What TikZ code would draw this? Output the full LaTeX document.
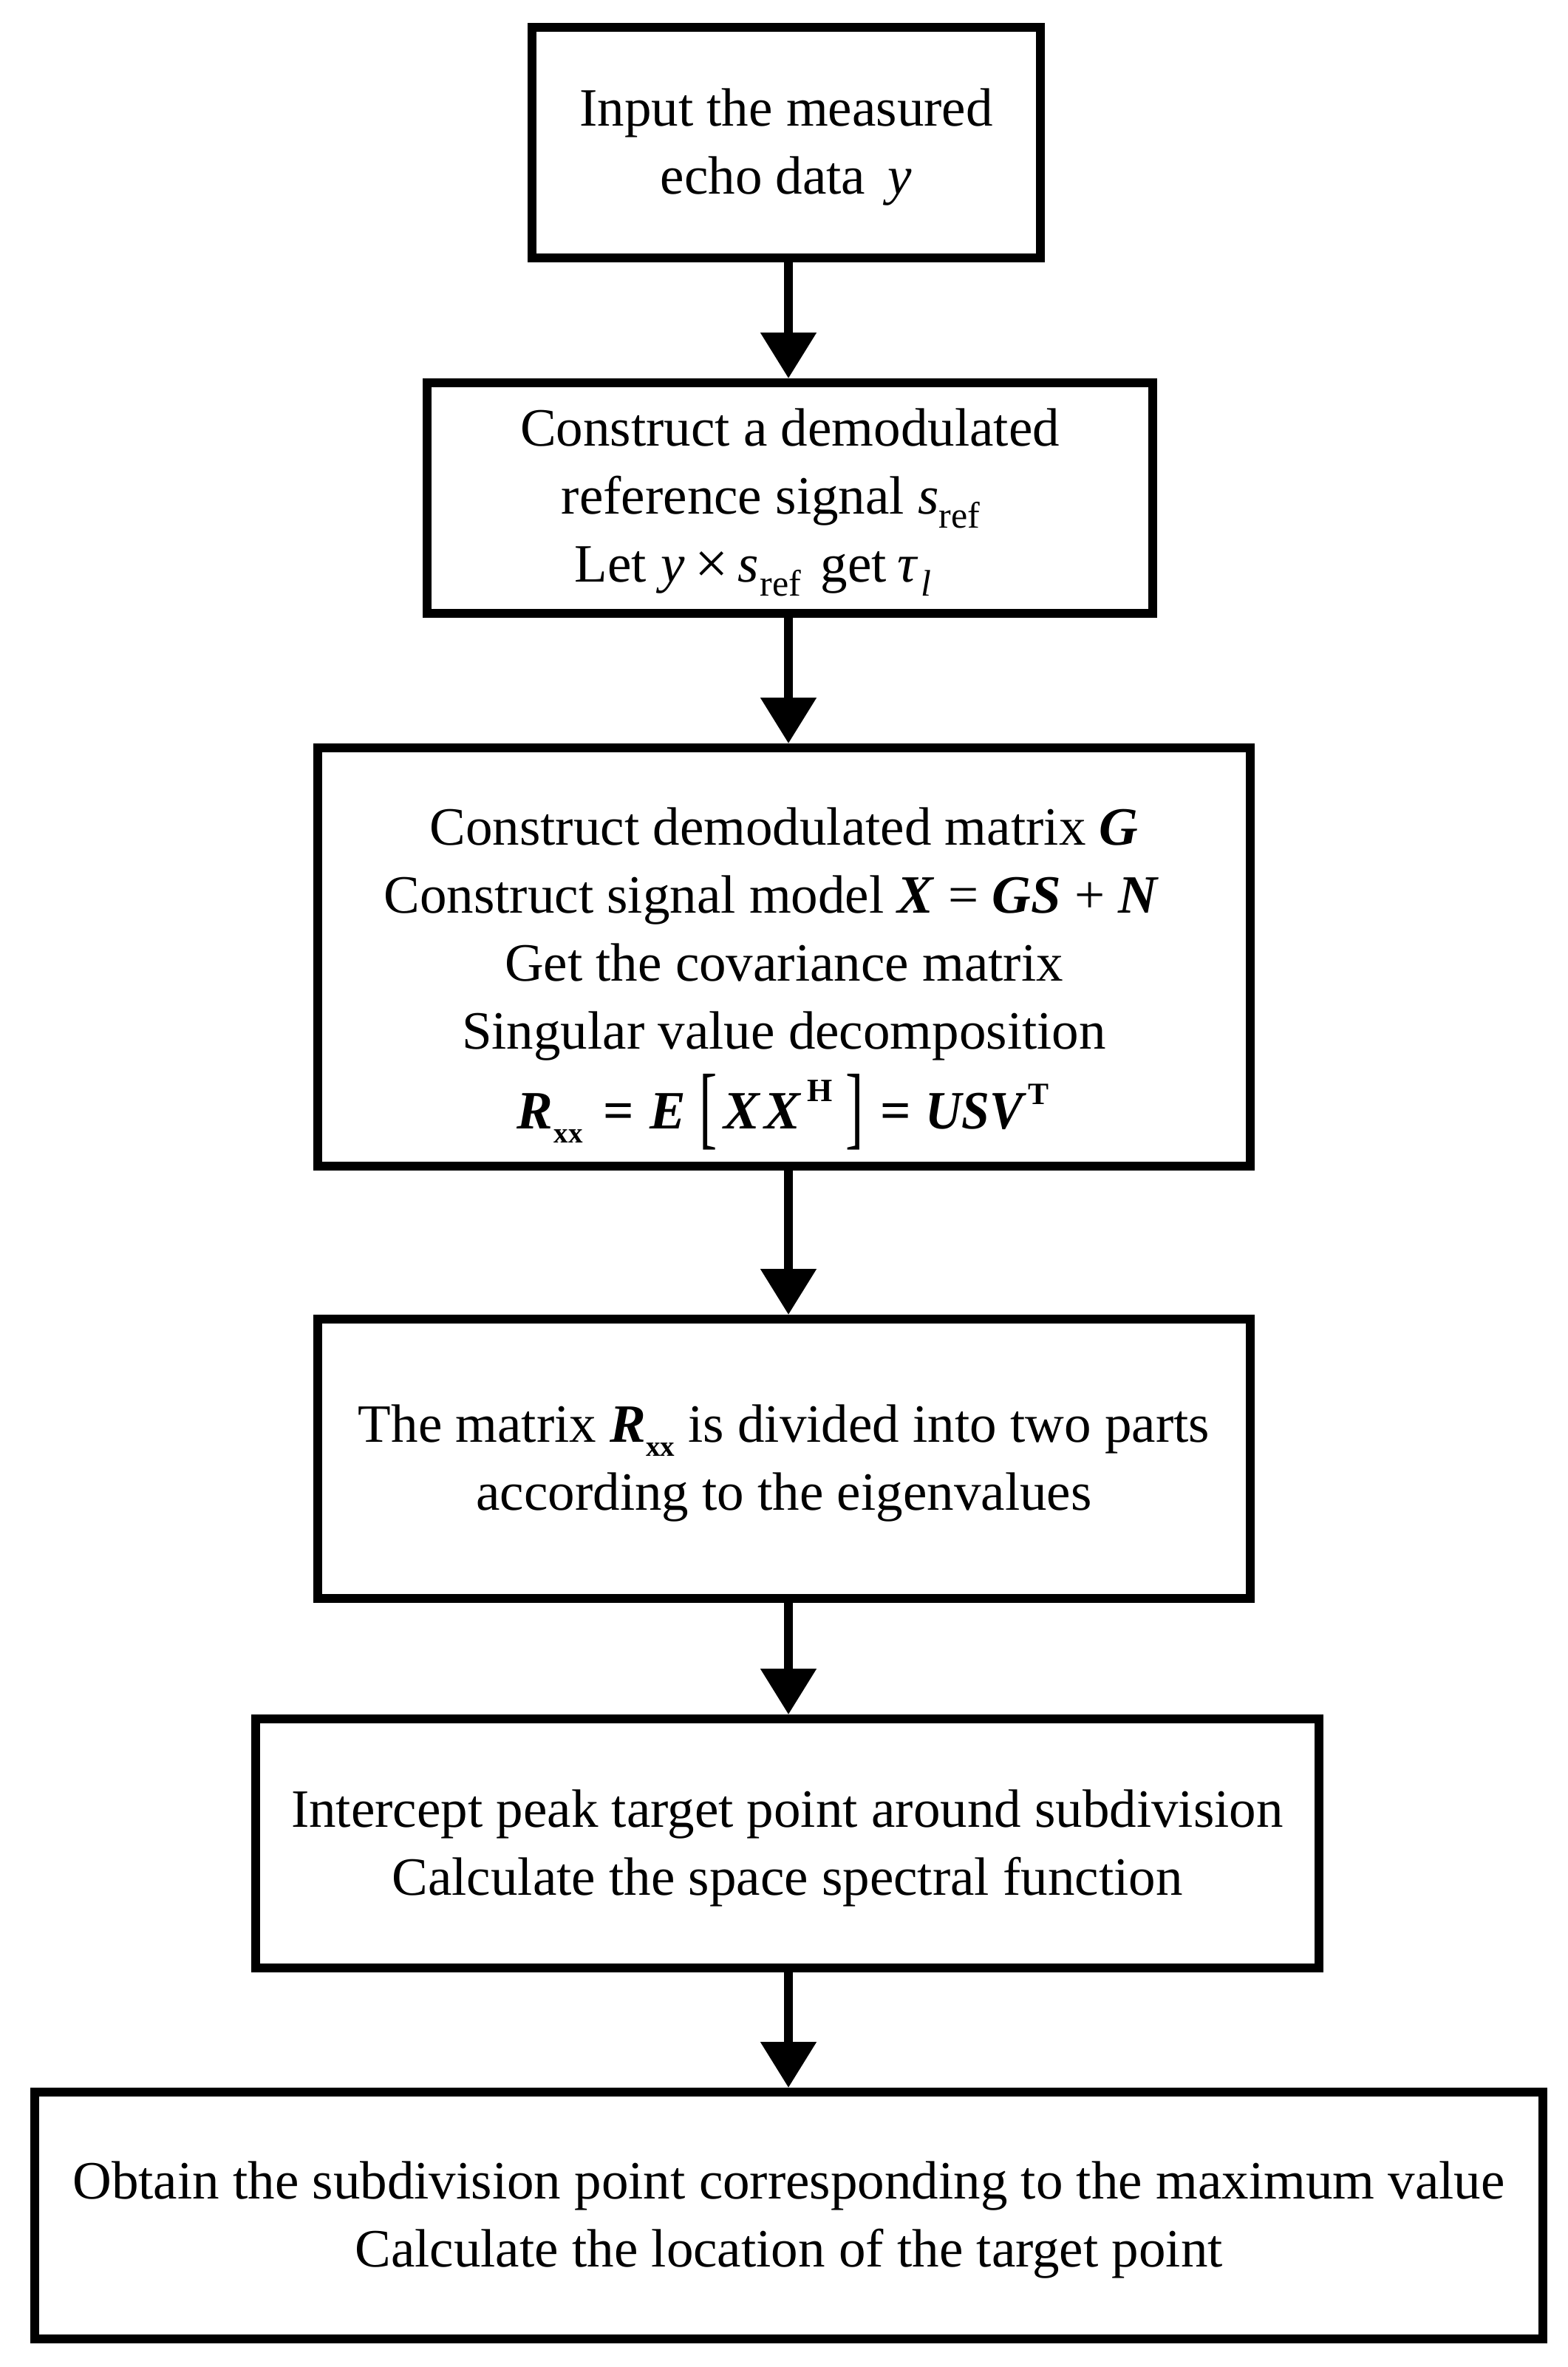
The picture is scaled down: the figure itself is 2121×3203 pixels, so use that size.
\documentclass[tikz,border=0pt]{standalone}
\usepackage{fontspec}
\setmainfont{Liberation Serif}
\usepackage{graphicx}
\usetikzlibrary{arrows.meta}
\newcommand{\myit}[1]{\textit{#1}}
\newcommand{\mybi}[1]{\textbf{\textit{#1}}}
\newcommand{\mysub}[1]{\raisebox{-19pt}{\fontsize{50pt}{50pt}\selectfont #1}}
\newcommand{\mysubx}[1]{\raisebox{-19pt}{\fontsize{39pt}{39pt}\selectfont #1}}
\newcommand{\mysupH}[1]{\raisebox{37pt}{\fontsize{44pt}{44pt}\selectfont #1}}
\newcommand{\mysupT}[1]{\raisebox{33pt}{\fontsize{42pt}{42pt}\selectfont #1}}
\newcommand{\mylb}{\raisebox{-12pt}{\scalebox{1}[1.7]{[}}}
\newcommand{\myrb}{\raisebox{-12pt}{\scalebox{1}[1.7]{]}}}
\newcommand{\mk}[2]{\makebox[#1pt][l]{#2}}
\tikzset{
  stepbox/.style={draw=black, line width=12pt, rectangle, inner sep=0pt},
  steptext/.style={inner sep=0pt, align=center, font=\fontsize{73pt}{92pt}\selectfont},
  flowarrow/.style={line width=12pt, -{Triangle[length=62pt,width=73pt]}}
}
\begin{document}
\begin{tikzpicture}[x=1pt,y=-1pt]
\useasboundingbox (0,0) rectangle (2121,3203);
\fill[white] (0,0) rectangle (2121,3203);
\coordinate (ax) at (1067,0);
\node[stepbox, minimum width=688pt, minimum height=312pt] (b1) at (1064,193) {};
\node[steptext] (t1) at ([yshift=-6pt]b1.center)
  {Input the measured\\echo data \,\myit{y}};
\node[stepbox, minimum width=982pt, minimum height=312pt] (b2) at (1069,674) {};
\node[steptext] (t2) at ([yshift=-6pt]b2.center)
  {Construct a demodulated\\
   reference signal \myit{s}\mysub{ref}\hspace*{52pt}\mbox{}\\
   \mk{117}{Let}\mk{46}{\myit{y}}\mk{58}{\raisebox{-2pt}{\scalebox{1.1}{×}}}\mk{30}{\myit{s}}\mk{82}{\mysub{ref}}\mk{104}{get}\mk{32}{\myit{τ}}\mk{12}{\mysub{\myit{l}}}\hspace*{102pt}};
\node[stepbox, minimum width=1262pt, minimum height=566pt] (b3) at (1061,1295) {};
\node[steptext] (t3) at ([yshift=-29pt]b3.center)
  {Construct demodulated matrix \mybi{G}\\
   Construct signal model \mybi{X} = \mybi{GS} + \mybi{N}\hspace*{34pt}\mbox{}\\
   Get the covariance matrix\\
   Singular value decomposition\\[16pt]
   \mk{50}{\mybi{R}}\mk{67}{\mysubx{\textbf{xx}}}\mk{63}{\textbf{=}}\mk{67}{\mybi{E}}\mk{33}{\mylb}\mk{55}{\mybi{X}}\mk{58}{\mybi{X}}\mk{52}{\mysupH{\textbf{H}}}\mk{47}{\myrb}\mk{61}{\textbf{=}}\mk{139}{\scalebox{0.93}[1]{\mybi{USV}}}\mk{31}{\mysupT{\textbf{T}}}};
\node[stepbox, minimum width=1262pt, minimum height=378pt] (b4) at (1061,1974) {};
\node[steptext] (t4) at ([yshift=-6pt]b4.center)
  {The matrix \mybi{R}\mysubx{\textbf{xx}} is divided into two parts\\according to the eigenvalues};
\node[stepbox, minimum width=1439pt, minimum height=337pt] (b5) at (1065.5,2494.5) {};
\node[steptext] (t5) at ([yshift=-6pt]b5.center)
  {Intercept peak target point around subdivision\\Calculate the space spectral function};
\node[stepbox, minimum width=2041pt, minimum height=334pt] (b6) at (1067.5,2998) {};
\node[steptext] (t6) at ([yshift=-6pt]b6.center)
  {Obtain the subdivision point corresponding to the maximum value\\Calculate the location of the target point};
\draw[flowarrow] (ax |- b1.south) -- (ax |- b2.north);
\draw[flowarrow] (ax |- b2.south) -- (ax |- b3.north);
\draw[flowarrow] (ax |- b3.south) -- (ax |- b4.north);
\draw[flowarrow] (ax |- b4.south) -- (ax |- b5.north);
\draw[flowarrow] (ax |- b5.south) -- (ax |- b6.north);
\end{tikzpicture}
\end{document}
